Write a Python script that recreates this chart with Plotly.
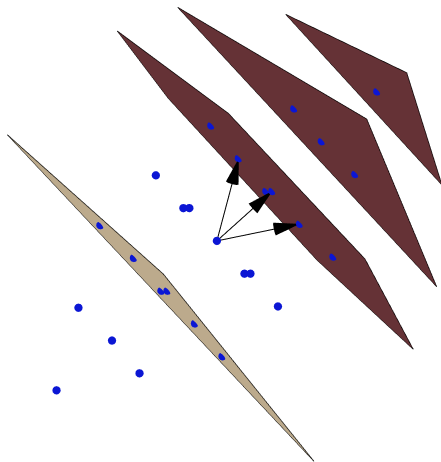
import numpy as np
import plotly.graph_objects as go

# ---- lattice -------------------------------------------------------------
# primitive basis vectors (Cartesian, Å)
a1 = [0.2192, 0.8260, -0.15]
a2 = [0.5547, 0.4983, -0.05]
a3 = [0.8298, 0.1704, -0.10]
# lattice points drawn: n1*a1 + n2*a2 + n3*a3 with n_i in this range
cell_range = [-1, 0, 1]

# ---- (111) lattice planes ------------------------------------------------
# plane index n (h*n1 + k*n2 + l*n3 = n) and the corners of each drawn sheet,
# given in fractional (lattice) coordinates
plane_index = [-1, 1, 2, 3]
plane_corners = {
    -1: [[3.835, -3.908, -0.927], [-2.626, 4.761, -3.135], [-1.563, -3.078, 3.641]],
    1: [[3.430, -0.976, -1.454], [-3.496, 10.363, -5.867], [-5.884, 10.693, -3.809],
        [-1.350, -1.126, 3.476], [2.179, -5.460, 4.281], [4.332, -4.832, 1.500]],
    2: [[6.236, -6.383, 2.147], [-9.497, 21.666, -10.169], [2.176, -6.786, 6.610]],
    3: [[5.434, -5.515, 3.081], [-6.454, 16.474, -7.020], [3.274, -6.400, 6.126]],
}
plane_color = {-1: '#bcaa8c', 1: '#653236', 2: '#653236', 3: '#653236'}

# ---- styling -------------------------------------------------------------
W, H = 441, 462
atom_color = 'rgb(12,24,236)'
atom_radius = 0.042
head_length = 0.26
view_center = [0.036, 0.099, 0.0]
px_per_unit = 100.0
Rax = 2.8

B = np.array([a1, a2, a3])


def to_cart(frac):
    return np.asarray(frac, float) @ B


fig = go.Figure()

# lattice planes with black outline
for n in plane_index:
    P = to_cart(plane_corners[n])
    m = len(P)
    fig.add_trace(go.Mesh3d(
        x=P[:, 0], y=P[:, 1], z=P[:, 2],
        i=[0] * (m - 2), j=list(range(1, m - 1)), k=list(range(2, m)),
        color=plane_color[n], flatshading=True,
        lighting=dict(ambient=1, diffuse=0, specular=0, roughness=1, fresnel=0),
        hoverinfo='skip'))
    loop = np.vstack([P, P[:1]])
    fig.add_trace(go.Scatter3d(x=loop[:, 0], y=loop[:, 1], z=loop[:, 2], mode='lines',
                               line=dict(color='black', width=1.5), hoverinfo='skip'))

# lattice points as small spheres (one mesh)
frac_pts = np.array([[i, j, k] for i in cell_range for j in cell_range for k in cell_range], float)
centers = to_cart(frac_pts)
nt, nph = 8, 12
th = np.linspace(0, np.pi, nt + 1)
ph = np.linspace(0, 2 * np.pi, nph, endpoint=False)
TH, PH = np.meshgrid(th, ph, indexing='ij')
unit = np.stack([np.sin(TH) * np.cos(PH), np.sin(TH) * np.sin(PH), np.cos(TH)], -1).reshape(-1, 3)
faces = []
for r in range(nt):
    for c in range(nph):
        p0 = r * nph + c
        p1 = r * nph + (c + 1) % nph
        p2 = (r + 1) * nph + c
        p3 = (r + 1) * nph + (c + 1) % nph
        faces += [(p0, p2, p1), (p1, p2, p3)]
faces = np.array(faces)
V, F = [], []
for q, ctr in enumerate(centers):
    V.append(ctr + atom_radius * unit)
    F.append(faces + q * len(unit))
V = np.vstack(V)
F = np.vstack(F)
fig.add_trace(go.Mesh3d(x=V[:, 0], y=V[:, 1], z=V[:, 2], i=F[:, 0], j=F[:, 1], k=F[:, 2],
                        color=atom_color, flatshading=False,
                        lighting=dict(ambient=0.9, diffuse=0.35, specular=0.15, roughness=0.5, fresnel=0.1),
                        lightposition=dict(x=0, y=0, z=100000), hoverinfo='skip'))

# basis-vector arrows from the origin
for vec in B:
    fig.add_trace(go.Scatter3d(x=[0, vec[0]], y=[0, vec[1]], z=[0, vec[2]], mode='lines',
                               line=dict(color='black', width=2), hoverinfo='skip'))
    d = vec / np.linalg.norm(vec) * head_length
    fig.add_trace(go.Cone(x=[vec[0]], y=[vec[1]], z=[vec[2]], u=[d[0]], v=[d[1]], w=[d[2]],
                          anchor='tip', sizemode='raw', sizeref=1,
                          colorscale=[[0, 'black'], [1, 'black']], showscale=False,
                          lighting=dict(ambient=1, diffuse=0, specular=0), hoverinfo='skip'))

# orthographic view looking down -z, y up
k_asp = 2 * Rax * px_per_unit / (H / 2)
norm = k_asp / (2 * Rax)
cen = np.array(view_center) * norm
ax = dict(visible=False, range=[-Rax, Rax])
fig.update_layout(
    width=W, height=H, margin=dict(l=0, r=0, t=0, b=0), showlegend=False,
    paper_bgcolor='white',
    scene=dict(
        xaxis=ax, yaxis=ax, zaxis=ax, bgcolor='white',
        aspectmode='manual', aspectratio=dict(x=k_asp, y=k_asp, z=k_asp),
        camera=dict(eye=dict(x=cen[0], y=cen[1], z=cen[2] + 1.4424),
                    center=dict(x=cen[0], y=cen[1], z=cen[2]),
                    up=dict(x=0, y=1, z=0),
                    projection=dict(type='orthographic'))))
fig.write_html("out.html")
